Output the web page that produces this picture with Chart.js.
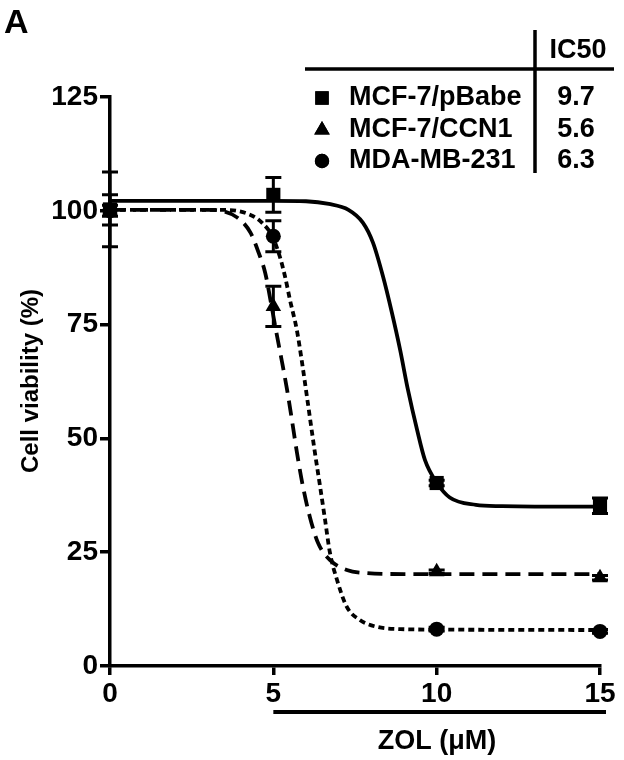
<!DOCTYPE html>
<html>
<head>
<meta charset="utf-8">
<script src="https://cdn.jsdelivr.net/npm/chart.js@4.4.1/dist/chart.umd.min.js"></script>
<style>
  html, body { margin: 0; padding: 0; background: #fff; }
</style>
</head>
<body>
<canvas id="zolChart" width="624" height="760"></canvas>
<script>
"use strict";


// Cell viability vs ZOL dose, panel A


const xTicks = [0, 5, 10, 15];
const yTicks = [0, 25, 50, 75, 100, 125];

const doses = [0, 5, 10, 15];
const pBabeMean = [100.3, 103.5, 40.2, 35.2];
const pBabeSem = [8.2, 3.8, 0.6, 1.7];
const ccn1Mean = [100.2, 79.0, 20.7, 19.4];
const ccn1Sem = [3.3, 4.4, 0.4, 0.5];
const mdaMean = [100.0, 94.4, 8.1, 7.6];
const mdaSem = [1.2, 3.4, 0.4, 0.4];

// fitted curves
const pBabeFitX = [0, 5, 6, 6.7, 7.3, 7.74, 8.05, 8.36, 8.63, 8.88, 9.12, 9.4, 9.64, 10, 10.4, 11.2, 12, 13, 15];
const pBabeFitY = [102.2, 102.2, 102.1, 101.5, 100.2, 97.4, 93, 85.5, 77.6, 69.5, 60.7, 51.9, 45.3, 40.3, 37, 35.4, 35.1, 35, 35];
const ccn1FitX = [0, 3, 3.4, 3.9, 4.3, 4.55, 4.75, 4.96, 5.1, 5.26, 5.42, 5.57, 5.72, 5.91, 6.12, 6.37, 6.73, 7.25, 7.87, 9, 10, 15];
const ccn1FitY = [100.2, 100.2, 100, 98.5, 95.2, 90.8, 86.4, 78.5, 73, 67, 60.7, 54, 47, 39.3, 32.7, 27, 23.3, 21.1, 20.4, 20.2, 20.2, 20.2];
const mdaFitX = [0, 3.5, 4.3, 4.65, 4.96, 5.2, 5.36, 5.51, 5.72, 5.88, 6.03, 6.18, 6.27, 6.43, 6.58, 6.73, 6.95, 7.25, 7.65, 8.17, 8.9, 10, 15];
const mdaFitY = [100.2, 100.2, 99.1, 97.4, 94.5, 89.9, 85.5, 80.4, 73.8, 66.6, 59.1, 51.5, 47, 39.5, 32.3, 25, 18.9, 13, 10.1, 8.6, 8.1, 8, 7.9];

const lineNames = ["MCF-7/pBabe", "MCF-7/CCN1", "MDA-MB-231"];
const ic50Values = ["9.7", "5.6", "6.3"];
const markerStyles = ["rect", "triangle", "circle"];

const FONT = "'Liberation Sans', Arial, sans-serif";

function toPoints(xs, ys) {
    return xs.map((x, i) => ({ x: x, y: ys[i] }));
}

function curve(xs, ys, dash) {
    return {
        data: toPoints(xs, ys),
        showLine: true,
        borderColor: "#000",
        borderWidth: 3.8,
        borderDash: dash,
        pointRadius: 0,
        cubicInterpolationMode: "monotone",
        clip: false
    };
}

function markers(means, sems, style, radius) {
    return {
        data: toPoints(doses, means),
        sem: sems,
        showLine: false,
        pointStyle: style,
        pointRadius: radius,
        pointBackgroundColor: "#000",
        pointBorderColor: "#000",
        pointBorderWidth: 0,
        clip: false
    };
}

const errorBars = {
    id: "errorBars",
    afterDatasetsDraw(chart) {
        let ctx = chart.ctx;
        let xs = chart.scales.x, ys = chart.scales.y;
        ctx.save();
        ctx.strokeStyle = "#000";
        ctx.lineWidth = 3;
        chart.data.datasets.forEach(ds => {
            if (!ds.sem) return;
            ds.data.forEach((p, i) => {
                let px = xs.getPixelForValue(p.x);
                let top = ys.getPixelForValue(p.y + ds.sem[i]);
                let bot = ys.getPixelForValue(p.y - ds.sem[i]);
                ctx.beginPath();
                ctx.moveTo(px, top); ctx.lineTo(px, bot);
                ctx.moveTo(px - 8, top); ctx.lineTo(px + 8, top);
                ctx.moveTo(px - 8, bot); ctx.lineTo(px + 8, bot);
                ctx.stroke();
            });
        });
        ctx.restore();
    }
};

const extras = {
    id: "extras",
    afterDraw(chart) {
        let ctx = chart.ctx;
        let xs = chart.scales.x;
        ctx.save();
        ctx.fillStyle = "#000";
        ctx.strokeStyle = "#000";

        // panel letter
        ctx.font = "bold 34px " + FONT;
        ctx.textAlign = "left";
        ctx.textBaseline = "alphabetic";
        ctx.fillText("A", 4, 33);

        // y title
        ctx.save();
        ctx.translate(31, 381);
        ctx.rotate(-Math.PI / 2);
        ctx.font = "bold 24px " + FONT;
        ctx.textAlign = "center";
        ctx.textBaseline = "middle";
        ctx.fillText("Cell viability (%)", 0, 0);
        ctx.restore();

        // treatment bar + x title
        ctx.lineWidth = 4;
        ctx.beginPath();
        ctx.moveTo(xs.getPixelForValue(5), 712);
        ctx.lineTo(xs.getPixelForValue(15) + 6, 712);
        ctx.stroke();
        ctx.font = "bold 27px " + FONT;
        ctx.textAlign = "center";
        ctx.textBaseline = "middle";
        ctx.fillText("ZOL (\u03bcM)", 437, 742);

        // IC50 table
        ctx.lineWidth = 3.5;
        ctx.beginPath();
        ctx.moveTo(535, 30); ctx.lineTo(535, 173);
        ctx.moveTo(305, 69); ctx.lineTo(614, 69);
        ctx.stroke();
        ctx.font = "bold 27px " + FONT;
        ctx.fillText("IC50", 578, 51);
        let rowY = [98, 130, 161];
        let radius = [9.5, 9, 7.2];
        lineNames.forEach((name, i) => {
            Chart.helpers.drawPoint(ctx, { pointStyle: markerStyles[i], radius: radius[i], borderWidth: 0 }, 322, rowY[i]);
            ctx.fill();
            ctx.textAlign = "left";
            ctx.fillText(name, 349, rowY[i]);
            ctx.textAlign = "center";
            ctx.fillText(ic50Values[i], 576, rowY[i]);
        });
        ctx.restore();
    }
};

let ctx_zol = document.getElementById("zolChart").getContext("2d");

let zolChart = new Chart(ctx_zol, {
    type: "scatter",
    data: {
        datasets: [
            curve(pBabeFitX, pBabeFitY, []),
            curve(ccn1FitX, ccn1FitY, [15, 8]),
            curve(mdaFitX, mdaFitY, [6, 4]),
            markers(pBabeMean, pBabeSem, "rect", 10),
            markers(ccn1Mean, ccn1Sem, "triangle", 9),
            markers(mdaMean, mdaSem, "circle", 7.5)
        ]
    },
    options: {
        responsive: false,
        animation: false,
        devicePixelRatio: 1,
        layout: {
            padding: { left: 0, top: 97, right: 24, bottom: 0 }
        },
        plugins: {
            legend: { display: false },
            tooltip: { enabled: false }
        },
        scales: {
            x: {
                type: "linear",
                min: 0,
                max: 15,
                afterBuildTicks: s => { s.ticks = xTicks.map(v => ({ value: v })); },
                afterFit: s => { s.height = 94; },
                border: { display: true, width: 3.5, color: "#000" },
                grid: { drawOnChartArea: false, drawTicks: true, tickLength: 9, lineWidth: 3.5, color: "#000" },
                ticks: {
                    color: "#000",
                    padding: 2,
                    maxRotation: 0,
                    font: { family: FONT, weight: "bold", size: 28 }
                }
            },
            y: {
                type: "linear",
                min: 0,
                max: 125,
                afterBuildTicks: s => { s.ticks = yTicks.map(v => ({ value: v })); },
                afterFit: s => { s.width = 110; },
                border: { display: true, width: 3.5, color: "#000" },
                grid: { drawOnChartArea: false, drawTicks: true, tickLength: 10, lineWidth: 3.5, color: "#000" },
                ticks: {
                    color: "#000",
                    padding: 2,
                    font: { family: FONT, weight: "bold", size: 28 }
                }
            }
        }
    },
    plugins: [errorBars, extras]
});
</script>
</body>
</html>
